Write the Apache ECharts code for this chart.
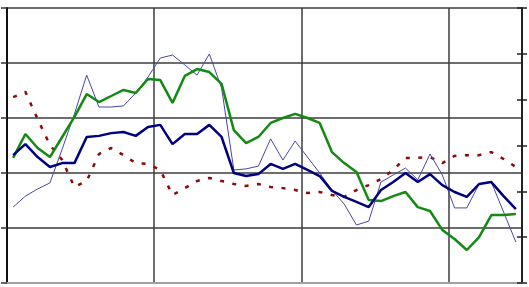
<!DOCTYPE html>
<html>
<head>
<meta charset="utf-8">
<script src="https://cdn.jsdelivr.net/npm/echarts@6/dist/echarts.min.js"></script>
<style>html,body{margin:0;padding:0;background:#fff}#c{width:529px;height:287px}</style>
</head>
<body>
<div id="c"></div>
<script>
var categories = [];
for (var y = 0; y < 4; y++) { for (var m = 1; m <= 12; m++) { if (categories.length < 42) categories.push((2000 + y) + '-' + (m < 10 ? '0' + m : m)); } }

var navyValues = [46.5,50.5,45.8,42.2,43.6,43.6,53.1,53.5,54.5,54.9,53.5,56.7,57.5,50.5,54.2,54.2,57.5,53.1,40.0,38.9,39.6,43.3,41.5,43.3,41.1,38.9,33.5,31.3,29.5,27.6,33.8,36.7,40.0,36.7,39.6,35.6,33.1,31.3,36.0,36.7,31.6,26.9];
var thinValues = [27.6,31.6,34.2,36.4,48.7,61.5,75.6,64.0,64.0,64.4,69.1,74.9,81.8,82.9,79.3,75.6,83.3,70.9,41.1,41.5,42.5,52.4,44.7,51.6,45.8,40.0,33.8,28.7,21.1,22.5,36.7,39.3,41.8,37.5,46.9,39.3,27.3,27.3,36.0,36.7,25.8,14.9];
var greenValues = [45.5,54.2,49.1,45.8,53.1,60.4,68.7,65.8,68.0,70.2,69.1,74.2,73.8,65.5,75.3,77.8,76.7,72.4,55.6,50.9,53.1,58.2,60.0,61.5,60.0,58.2,47.6,43.6,40.4,30.2,29.8,31.6,33.1,27.6,26.2,19.3,16.0,12.0,16.7,24.7,24.7,25.1];
var redValues = [67.6,69.5,59.6,50.2,44.7,34.9,37.1,46.9,49.1,46.5,43.6,43.3,41.1,32.0,34.5,37.1,38.2,37.1,36.0,35.3,36.0,34.9,34.5,33.8,32.7,33.1,32.0,31.3,33.8,35.6,37.8,41.1,45.5,45.5,45.8,43.6,46.2,46.5,46.5,47.6,45.1,42.2];

var chart = echarts.init(document.getElementById('c'), null, {renderer: 'canvas'});
var gridColor = '#3c3c3c';
chart.setOption({
  animation: false,
  backgroundColor: '#ffffff',
  grid: {left: 7, right: 7, top: 8, bottom: 4, containLabel: false},
  xAxis: {
    type: 'category', data: categories, boundaryGap: true,
    axisLine: {show: true, lineStyle: {color: '#a0a0a0', width: 2}},
    axisTick: {show: false}, axisLabel: {show: false},
    splitLine: {show: true, interval: function (i) { return i % 12 === 0; }, lineStyle: {color: gridColor, width: 1.5}}
  },
  yAxis: [
    {type: 'value', min: 0, max: 100, interval: 20, position: 'left',
     axisLine: {show: true, lineStyle: {color: '#111', width: 2}},
     axisTick: {show: true, length: 6, lineStyle: {color: '#333', width: 1.5}},
     axisLabel: {show: false},
     splitLine: {show: true, lineStyle: {color: gridColor, width: 1.5}}},
    {type: 'value', min: 0, max: 60, interval: 10, position: 'right',
     axisLine: {show: true, lineStyle: {color: '#222', width: 2}},
     axisTick: {show: true, length: 5, lineStyle: {color: '#222', width: 1.5}},
     axisLabel: {show: false}, splitLine: {show: false}},
    {type: 'value', min: 0, max: 60, interval: 10, position: 'right', offset: 0,
     axisLine: {show: false},
     axisTick: {show: true, inside: true, length: 5, lineStyle: {color: '#222', width: 1.5}},
     axisLabel: {show: false}, splitLine: {show: false}}
  ],
  series: [
    {name: 'C', type: 'line', data: redValues, symbol: 'none', z: 2,
     lineStyle: {color: '#8b0a0a', width: 2.5, type: [4, 8.5]}},
    {name: 'B', type: 'line', data: thinValues, symbol: 'none', z: 3,
     lineStyle: {color: '#4848a8', width: 1}},
    {name: 'G', type: 'line', data: greenValues, symbol: 'none', z: 4,
     lineStyle: {color: '#138a13', width: 2.5}},
    {name: 'A', type: 'line', data: navyValues, symbol: 'none', z: 5,
     lineStyle: {color: '#000080', width: 2.5}}
  ]
});
</script>
</body>
</html>
